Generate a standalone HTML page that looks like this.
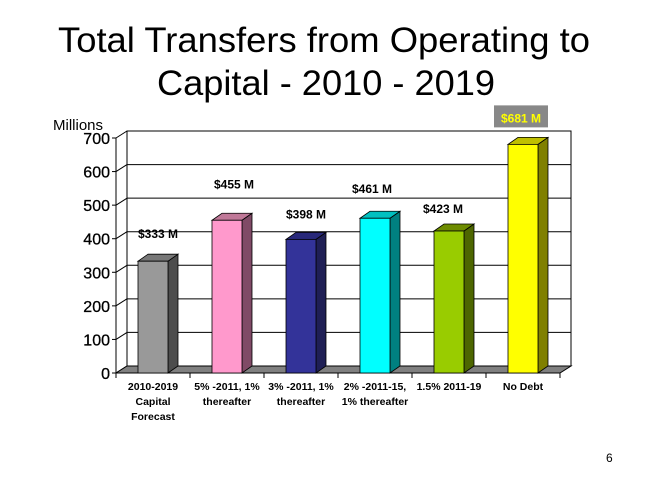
<!DOCTYPE html>
<html><head><meta charset="utf-8"><style>
html,body{margin:0;padding:0;background:#fff;}
svg{display:block;font-family:"Liberation Sans",Arial,sans-serif;}
</style></head><body>
<svg id="chart" width="650" height="488" viewBox="0 0 650 488" xmlns="http://www.w3.org/2000/svg">
<text x="324" y="52" font-size="35" text-anchor="middle" textLength="532" lengthAdjust="spacingAndGlyphs">Total Transfers from Operating to</text>
<text x="326" y="95" font-size="35" text-anchor="middle" textLength="338" lengthAdjust="spacingAndGlyphs">Capital - 2010 - 2019</text>
<text x="53" y="130" font-size="15">Millions</text>
<text x="606" y="462" font-size="12">6</text>
<g id="plot"></g>
</svg>
<script>
const categories=[["2010-2019","Capital","Forecast"],["5% -2011, 1%","thereafter"],["3% -2011, 1%","thereafter"],["2% -2011-15,","1% thereafter"],["1.5% 2011-19"],["No Debt"]];
const values=[333,455,398,461,423,681];
const valueLabels=["$333 M","$455 M","$398 M","$461 M","$423 M","$681 M"];
const yTicks=[0,100,200,300,400,500,600,700];
const labelDx=[5,7,5,-3,-6,-2];
const labelDy=[-23,-32,-21,-25,-18,-22];
const colors=[["#999999","#4d4d4d","#777777"],["#ff99cc","#804a66","#c07898"],["#333399","#1f1f55","#28287a"],["#00ffff","#008080","#00c0c0"],["#99cc00","#4d6600","#6e8c00"],["#ffff00","#808000","#c0c000"]];
const NS="http://www.w3.org/2000/svg";
const g=document.getElementById('plot');
const X0=116,X1=560,Y0=373,Y700=138,DX=11,DY=7;
const y=v=>Y0-(v/700)*(Y0-Y700);
const cw=(X1-X0)/categories.length;
const xc=i=>X0+cw*(i+0.5);
function el(t,a){const e=document.createElementNS(NS,t);for(const k in a)e.setAttribute(k,a[k]);g.appendChild(e);return e;}
let wall=el('rect',{x:X0+DX,y:y(700)-DY,width:X1-X0,height:y(0)-y(700),fill:'#fff',stroke:'#000','stroke-width':1});


yTicks.forEach(t=>{
 if(t>0&&t<700){let l=el('line',{x1:X0+DX,x2:X1+DX,y1:y(t)-DY,y2:y(t)-DY,stroke:'#000'});
 
 }
 let d=el('line',{x1:X0,y1:y(t),x2:X0+DX,y2:y(t)-DY,stroke:'#000'});
 
 
 let tk=el('line',{x1:X0-4,x2:X0,y1:y(t),y2:y(t),stroke:'#000'});
 
 
 let tx=el('text',{x:X0-6,y:y(t)+6,'font-size':16,'text-anchor':'end',fill:'#000',stroke:'#000','stroke-width':0.3});
 tx.textContent=t;
 
 
});
let sw=el('line',{x1:X0,y1:y(0),x2:X0,y2:y(700),stroke:'#000'});


let fl=el('polygon',{points:`${X0},${Y0} ${X1},${Y0} ${X1+DX},${Y0-DY} ${X0+DX},${Y0-DY}`,fill:'#808080',stroke:'#000'});


let xa=el('line',{x1:X0,x2:X1,y1:Y0,y2:Y0,stroke:'#000'});


for(let i=0;i<=categories.length;i++){
 let t=el('line',{x1:X0+cw*i,x2:X0+cw*i,y1:Y0,y2:Y0+5,stroke:'#000'});
 
 
}
const BW=30,BDX=10,BDY=7;
values.forEach((v,i)=>{
 const cx=xc(i),l=cx-BW/2,r=cx+BW/2,top=y(v);
 const c=colors[i];
 let side=el('polygon',{points:`${r},${Y0} ${r},${top} ${r+BDX},${top-BDY} ${r+BDX},${Y0-BDY}`,fill:c[1],stroke:'#000','stroke-width':0.8});
 
 
 let tp=el('polygon',{points:`${l},${top} ${r},${top} ${r+BDX},${top-BDY} ${l+BDX},${top-BDY}`,fill:c[2],stroke:'#000','stroke-width':0.8});
 
 
 let fr=el('rect',{x:l,y:top,width:BW,height:Y0-top,fill:c[0],stroke:'#000','stroke-width':0.8});
 
 
 const lx=cx+labelDx[i],ly=top+labelDy[i];
 if(i===values.length-1){
  let bx=el('rect',{x:lx-27,y:ly-17,width:54,height:22,fill:'#888888'});
  
  
 }
 let lt=el('text',{x:lx,y:ly,'font-size':12,'font-weight':'bold','text-anchor':'middle',fill:i===values.length-1?'#ffff00':'#000'});
 lt.textContent=valueLabels[i];
 
 
 categories[i].forEach((line,j)=>{
  let ct=el('text',{x:cx,y:390+j*15,'font-size':10.5,'font-weight':'bold','text-anchor':'middle',fill:'#000'});
  ct.textContent=line;
  
  
 });
});
</script>
</body></html>
